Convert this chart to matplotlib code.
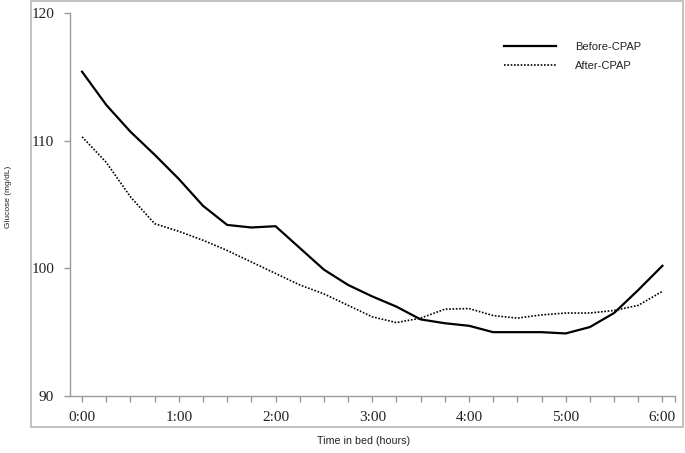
import matplotlib
matplotlib.use("Agg")
import matplotlib.pyplot as plt
from matplotlib.patches import Rectangle
from matplotlib.ticker import FixedLocator

# Data: glucose every 15 minutes, 0:00 .. 6:00
hours = [i * 0.25 for i in range(25)]
before_cpap = [115.4, 112.8, 110.7, 108.9, 107.0, 104.9, 103.4, 103.2, 103.3,
               101.6, 99.9, 98.7, 97.8, 97.0, 96.0, 95.7, 95.5, 95.0, 95.0,
               95.0, 94.9, 95.4, 96.5, 98.3, 100.2]
after_cpap = [110.3, 108.3, 105.6, 103.5, 102.9, 102.2, 101.4, 100.5, 99.6,
              98.7, 98.0, 97.1, 96.2, 95.75, 96.1, 96.8, 96.85, 96.3, 96.1,
              96.35, 96.5, 96.5, 96.7, 97.1, 98.2]
x_ticks = [0, 1, 2, 3, 4, 5, 6]
x_labels = ["0:00", "1:00", "2:00", "3:00", "4:00", "5:00", "6:00"]
y_ticks = [90, 100, 110, 120]

fig = plt.figure(figsize=(6.85, 4.53), dpi=100)
ax = fig.add_axes([69.5 / 685, 1 - 396 / 453, (675 - 69.5) / 685, (396 - 13) / 453])

ax.plot(hours, before_cpap, color="black", lw=1.6, label="Before-CPAP",
        solid_joinstyle="round")
ax.plot(hours, after_cpap, color="black", lw=1.2, ls=(0, (1, 1)), label="After-CPAP")

ax.set_xlim(-0.13, 6.13)
ax.set_ylim(90, 120)

gray = "#9a9a9a"
for s in ["top", "right"]:
    ax.spines[s].set_visible(False)
for s in ["left", "bottom"]:
    ax.spines[s].set_color(gray)
    ax.spines[s].set_linewidth(1.0)

ax.set_yticks(y_ticks)
ax.set_yticklabels([str(v) for v in y_ticks])
ax.set_xticks(x_ticks)
ax.set_xticklabels(x_labels)
ax.xaxis.set_minor_locator(FixedLocator([h for h in hours if h not in x_ticks] + [6.13]))

serif = ["Liberation Serif", "DejaVu Serif"]
ax.tick_params(axis="both", which="both", direction="out", color=gray, width=1.0, length=4)
ax.tick_params(axis="y", pad=7)
ax.tick_params(axis="x", pad=7)
for lab in ax.get_xticklabels() + ax.get_yticklabels():
    lab.set_fontfamily(serif)
    lab.set_fontsize(11)
    lab.set_color("#222222")

sans = ["Liberation Sans", "DejaVu Sans"]
fig.text(364 / 685, 1 - 441 / 453, "Time in bed (hours)", ha="center", va="center",
         fontsize=7.7, family=sans, color="#222222")
fig.text(9 / 685, 1 - 197 / 453, "Glucose (mg/dL)", ha="center", va="center",
         rotation=90, fontsize=6, family=sans, color="#222222")

leg = ax.legend(loc="upper left", bbox_to_anchor=(494 / 685, 1 - 32 / 453),
                bbox_transform=fig.transFigure, frameon=False,
                prop={"family": sans, "size": 8}, handlelength=4.7,
                handletextpad=1.7, labelspacing=0.8)
for t in leg.get_texts():
    t.set_color("#222222")

fig.add_artist(Rectangle((31 / 685, 1 - 427 / 453), (683 - 31) / 685, (427 - 1) / 453,
                         transform=fig.transFigure, fill=False, edgecolor="#bdbdbd",
                         lw=1.3))

fig.savefig("out.png", dpi=100)
